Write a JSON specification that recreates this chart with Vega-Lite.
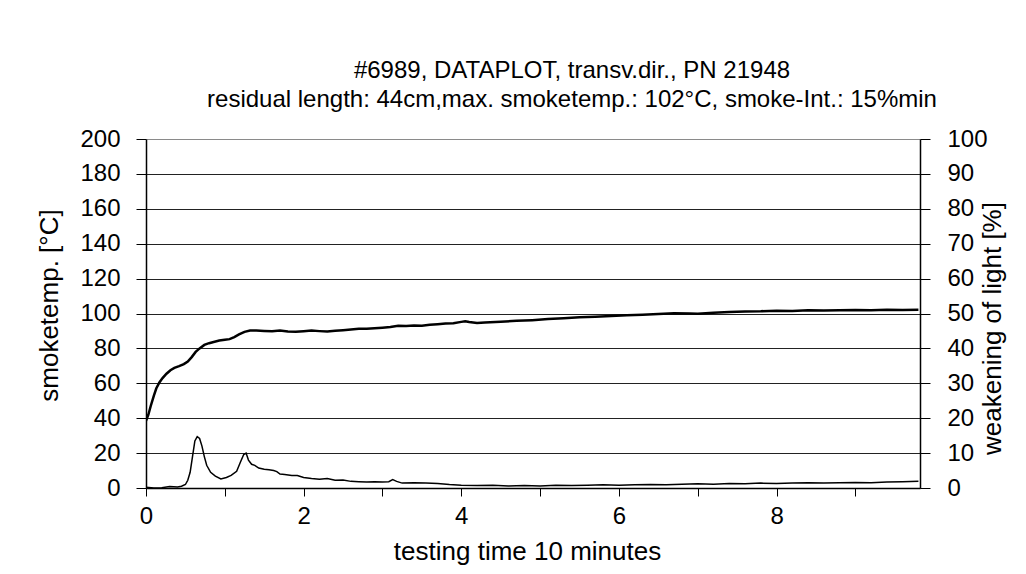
{
  "$schema": "https://vega.github.io/schema/vega-lite/v6.json",
  "width": 774,
  "height": 349,
  "autosize": {"type": "none"},
  "padding": {"left": 146, "top": 139, "right": 106, "bottom": 86},
  "background": "white",
  "config": {
    "font": "Liberation Sans",
    "view": {"stroke": null},
    "axis": {"labelFont": "Liberation Sans", "titleFont": "Liberation Sans", "labelColor": "black", "titleColor": "black", "titleFontWeight": "normal", "domainColor": "black", "tickColor": "black"}
  },
  "title": {
    "text": ["#6989, DATAPLOT, transv.dir., PN 21948", "residual length: 44cm,max. smoketemp.: 102°C, smoke-Int.: 15%min"],
    "fontSize": 24,
    "fontWeight": "normal",
    "font": "Liberation Sans",
    "color": "black",
    "lineHeight": 29,
    "anchor": "middle",
    "dx": 39,
    "offset": 15
  },
  "datasets": {
    "temp": [
      {"t": 0, "v": 38.5}, {"t": 0.03, "v": 42}, {"t": 0.06, "v": 47}, {"t": 0.1, "v": 53}, {"t": 0.13, "v": 57},
      {"t": 0.17, "v": 60.5}, {"t": 0.21, "v": 63}, {"t": 0.26, "v": 65.5}, {"t": 0.31, "v": 67.5}, {"t": 0.36, "v": 68.8},
      {"t": 0.42, "v": 69.8}, {"t": 0.48, "v": 71}, {"t": 0.53, "v": 72.5}, {"t": 0.58, "v": 75}, {"t": 0.63, "v": 78},
      {"t": 0.68, "v": 80}, {"t": 0.74, "v": 82}, {"t": 0.8, "v": 83}, {"t": 0.87, "v": 83.8}, {"t": 0.93, "v": 84.5},
      {"t": 1.0, "v": 85}, {"t": 1.06, "v": 85.3}, {"t": 1.12, "v": 86.5}, {"t": 1.18, "v": 88}, {"t": 1.25, "v": 89.5},
      {"t": 1.32, "v": 90.3}, {"t": 1.4, "v": 90.2}, {"t": 1.5, "v": 90}, {"t": 1.6, "v": 89.8}, {"t": 1.7, "v": 90.2},
      {"t": 1.8, "v": 89.7}, {"t": 1.9, "v": 89.5}, {"t": 2.0, "v": 89.8}, {"t": 2.1, "v": 90.2}, {"t": 2.2, "v": 89.9},
      {"t": 2.3, "v": 89.7}, {"t": 2.4, "v": 90.1}, {"t": 2.5, "v": 90.4}, {"t": 2.6, "v": 90.8}, {"t": 2.7, "v": 91.3},
      {"t": 2.8, "v": 91.2}, {"t": 2.9, "v": 91.6}, {"t": 3.0, "v": 91.9}, {"t": 3.1, "v": 92.3}, {"t": 3.2, "v": 93.0},
      {"t": 3.3, "v": 92.8}, {"t": 3.4, "v": 93.1}, {"t": 3.5, "v": 93.0}, {"t": 3.6, "v": 93.5}, {"t": 3.7, "v": 93.8},
      {"t": 3.8, "v": 94.2}, {"t": 3.9, "v": 94.4}, {"t": 4.0, "v": 95.2}, {"t": 4.05, "v": 95.6}, {"t": 4.1, "v": 95.1},
      {"t": 4.2, "v": 94.6}, {"t": 4.3, "v": 94.9}, {"t": 4.5, "v": 95.3}, {"t": 4.7, "v": 95.8}, {"t": 4.9, "v": 96.2},
      {"t": 5.1, "v": 96.8}, {"t": 5.3, "v": 97.3}, {"t": 5.5, "v": 97.8}, {"t": 5.7, "v": 98.1}, {"t": 5.9, "v": 98.5},
      {"t": 6.1, "v": 99}, {"t": 6.3, "v": 99.3}, {"t": 6.5, "v": 99.7}, {"t": 6.7, "v": 100.1}, {"t": 6.9, "v": 100},
      {"t": 7.0, "v": 99.8}, {"t": 7.2, "v": 100.4}, {"t": 7.4, "v": 100.9}, {"t": 7.6, "v": 101.2}, {"t": 7.8, "v": 101.3},
      {"t": 8.0, "v": 101.6}, {"t": 8.2, "v": 101.5}, {"t": 8.4, "v": 101.9}, {"t": 8.6, "v": 101.7}, {"t": 8.8, "v": 101.8},
      {"t": 9.0, "v": 102}, {"t": 9.2, "v": 101.9}, {"t": 9.4, "v": 102.1}, {"t": 9.6, "v": 102}, {"t": 9.8, "v": 102.2}
    ],
    "light": [
      {"t": 0, "v": 0.2}, {"t": 0.1, "v": 0}, {"t": 0.2, "v": 0.1}, {"t": 0.3, "v": 0.4}, {"t": 0.4, "v": 0.3},
      {"t": 0.45, "v": 0.5}, {"t": 0.5, "v": 1.0}, {"t": 0.53, "v": 2.2}, {"t": 0.56, "v": 4.5}, {"t": 0.59, "v": 9},
      {"t": 0.62, "v": 13.5}, {"t": 0.65, "v": 14.7}, {"t": 0.68, "v": 14.2}, {"t": 0.71, "v": 12}, {"t": 0.74, "v": 9},
      {"t": 0.77, "v": 6.5}, {"t": 0.82, "v": 4.5}, {"t": 0.88, "v": 3.4}, {"t": 0.95, "v": 2.6}, {"t": 1.02, "v": 3.0},
      {"t": 1.08, "v": 3.6}, {"t": 1.15, "v": 4.8}, {"t": 1.2, "v": 7.5}, {"t": 1.24, "v": 9.6}, {"t": 1.27, "v": 10},
      {"t": 1.3, "v": 8}, {"t": 1.34, "v": 6.8}, {"t": 1.38, "v": 6.5}, {"t": 1.43, "v": 5.7}, {"t": 1.5, "v": 5.4},
      {"t": 1.56, "v": 5.2}, {"t": 1.62, "v": 5.0}, {"t": 1.66, "v": 4.7}, {"t": 1.7, "v": 4.0}, {"t": 1.76, "v": 3.9},
      {"t": 1.85, "v": 3.6}, {"t": 1.92, "v": 3.6}, {"t": 2.0, "v": 3.0}, {"t": 2.1, "v": 2.7}, {"t": 2.2, "v": 2.5},
      {"t": 2.3, "v": 2.7}, {"t": 2.4, "v": 2.2}, {"t": 2.5, "v": 2.3}, {"t": 2.6, "v": 1.9}, {"t": 2.7, "v": 1.8},
      {"t": 2.8, "v": 1.7}, {"t": 2.9, "v": 1.8}, {"t": 3.0, "v": 1.7}, {"t": 3.08, "v": 1.8}, {"t": 3.13, "v": 2.4},
      {"t": 3.18, "v": 1.9}, {"t": 3.25, "v": 1.4}, {"t": 3.4, "v": 1.5}, {"t": 3.55, "v": 1.4}, {"t": 3.7, "v": 1.3},
      {"t": 3.85, "v": 1.0}, {"t": 4.0, "v": 0.8}, {"t": 4.2, "v": 0.7}, {"t": 4.4, "v": 0.8}, {"t": 4.6, "v": 0.6},
      {"t": 4.8, "v": 0.7}, {"t": 5.0, "v": 0.6}, {"t": 5.2, "v": 0.8}, {"t": 5.4, "v": 0.7}, {"t": 5.6, "v": 0.8},
      {"t": 5.8, "v": 0.9}, {"t": 6.0, "v": 0.8}, {"t": 6.2, "v": 0.9}, {"t": 6.4, "v": 1.0}, {"t": 6.6, "v": 0.9},
      {"t": 6.8, "v": 1.1}, {"t": 7.0, "v": 1.2}, {"t": 7.2, "v": 1.1}, {"t": 7.4, "v": 1.3}, {"t": 7.6, "v": 1.2},
      {"t": 7.8, "v": 1.4}, {"t": 8.0, "v": 1.3}, {"t": 8.2, "v": 1.4}, {"t": 8.4, "v": 1.5}, {"t": 8.6, "v": 1.4},
      {"t": 8.8, "v": 1.5}, {"t": 9.0, "v": 1.6}, {"t": 9.2, "v": 1.5}, {"t": 9.4, "v": 1.7}, {"t": 9.6, "v": 1.8},
      {"t": 9.8, "v": 1.9}
    ]
  },
  "layer": [
    {
      "data": {"name": "temp"},
      "mark": {"type": "line", "color": "black", "strokeWidth": 2.5, "clip": true},
      "encoding": {
        "x": {"field": "t", "type": "quantitative",
          "scale": {"domain": [0, 9.82], "nice": false, "zero": false},
          "axis": {"orient": "bottom", "title": "testing time 10 minutes", "values": [0,1,2,3,4,5,6,7,8,9],
            "labelExpr": "datum.value % 2 === 0 ? format(datum.value, 'd') : ''", "grid": false,
            "tickSize": 8, "labelFontSize": 24, "labelPadding": 8, "titleFontSize": 26, "domainWidth": 1.5,
            "titleX": 381, "titleY": 63, "titleBaseline": "middle", "titleAnchor": "middle", "labelFlush": false, "labelOverlap": false}},
        "y": {"field": "v", "type": "quantitative",
          "scale": {"domain": [0, 200], "nice": false},
          "axis": {"orient": "left", "title": "smoketemp. [°C]", "values": [0,20,40,60,80,100,120,140,160,180,200],
            "grid": true, "gridColor": {"condition": {"test": "datum.value === 200", "value": "#8a8a8a"}, "value": "#222"},
            "gridWidth": 1, "tickSize": 10, "labelFontSize": 24, "labelPadding": 16, "domainWidth": 1.5,
            "titleFontSize": 26, "titleAngle": -90, "titleX": -97, "titleY": 166, "titleBaseline": "middle", "titleAlign": "center"}}
      }
    },
    {
      "data": {"name": "light"},
      "mark": {"type": "line", "color": "black", "strokeWidth": 1.5, "clip": true},
      "encoding": {
        "x": {"field": "t", "type": "quantitative"},
        "y": {"field": "v", "type": "quantitative",
          "scale": {"domain": [0, 100], "nice": false},
          "axis": {"orient": "right", "title": "weakening of light [%]", "values": [0,10,20,30,40,50,60,70,80,90,100],
            "grid": false, "tickSize": 10, "labelFontSize": 24, "labelPadding": 17, "domainWidth": 1.5,
            "titleFontSize": 26, "titleAngle": -90, "titleX": 72, "titleY": 189, "titleBaseline": "middle", "titleAlign": "center"}}
      }
    }
  ],
  "resolve": {"scale": {"y": "independent"}}
}
